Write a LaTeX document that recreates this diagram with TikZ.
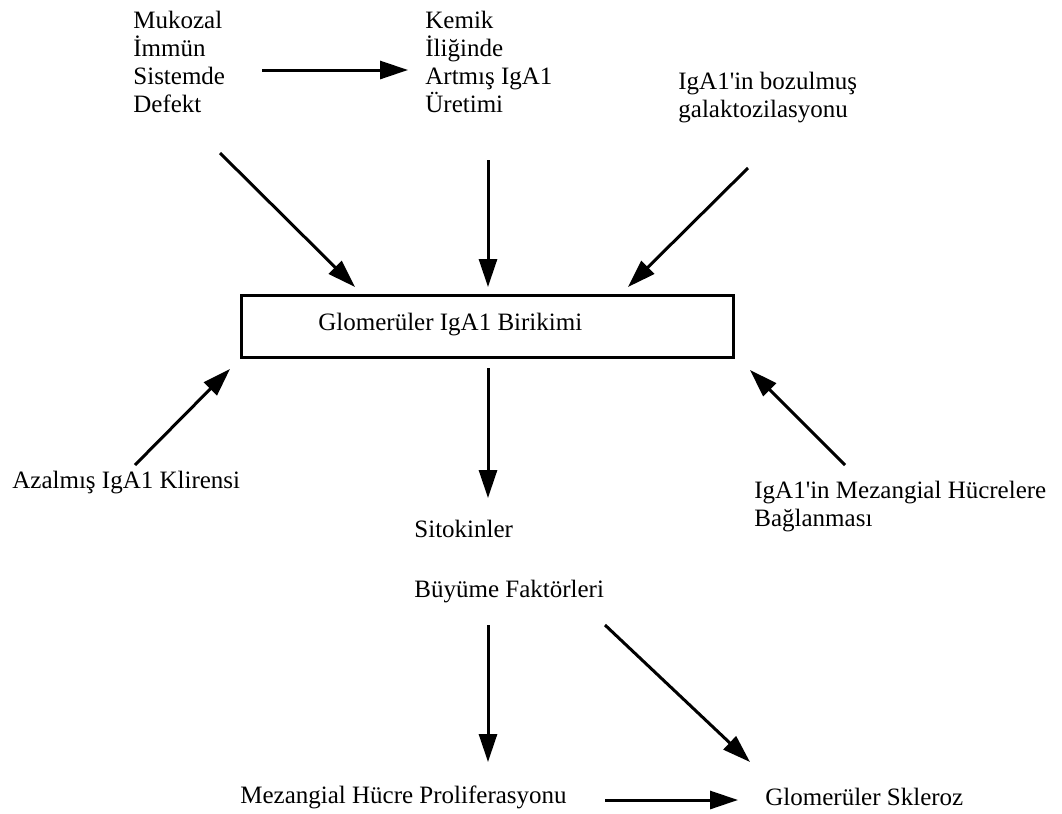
\documentclass[tikz,border=0pt]{standalone}
\usepackage{fontspec}
\setmainfont{Liberation Serif}[Ligatures=TeXOff]
\usetikzlibrary{arrows.meta}
\begin{document}
\begin{tikzpicture}[x=0.5pt,y=-0.5pt,
  txt/.style={inner sep=0pt, font=\fontsize{12.5}{14}\selectfont},
  ml/.style={txt, align=left, anchor=north west},
  sl/.style={txt, anchor=base west},
  arr/.style={line width=1.5pt, -{Triangle[length=14pt,width=9pt]}},
  boxst/.style={draw, line width=1.5pt, inner sep=0pt, minimum width=246pt, minimum height=31pt},
]
\useasboundingbox[fill=white] (0,0) rectangle (1062,814);

% text nodes
\node[ml] (muk) at (133,11) {Mukozal\\İmmün\\Sistemde\\Defekt};
\node[ml] (kem) at (425,11) {Kemik\\İliğinde\\Artmış IgA1\\Üretimi};
\node[ml] (boz) at (678,72) {IgA1'in bozulmuş\\galaktozilasyonu};
\node[boxst] (box) at (487,326) {};
\node[sl] (glo) at (318,330) {Glomerüler IgA1 Birikimi};
\node[sl] (azal) at (12,488) {Azalmış IgA1 Klirensi};
\node[ml] (bag) at (754,481) {IgA1'in Mezangial Hücrelere\\Bağlanması};
\node[sl] (sito) at (414,537) {Sitokinler};
\node[sl] (buy) at (414,597) {Büyüme Faktörleri};
\node[sl] (prol) at (240,803) {Mezangial Hücre Proliferasyonu};
\node[sl] (skl) at (765,805) {Glomerüler Skleroz};

% connector end points
\coordinate (a1s) at (262,70);   \coordinate (a1e) at (408,70);
\coordinate (a2s) at (220,153);  \coordinate (a2e) at (355,287);
\coordinate (a3s) at (488,160);  \coordinate (a3e) at (488,287);
\coordinate (a4s) at (748,168);  \coordinate (a4e) at (628,287);
\coordinate (a5s) at (135,465);  \coordinate (a5e) at (230,369);
\coordinate (a6s) at (845,465);  \coordinate (a6e) at (750,370);
\coordinate (a7s) at (488,368);  \coordinate (a7e) at (488,498);
\coordinate (a8s) at (488,625);  \coordinate (a8e) at (488,762);
\coordinate (a9s) at (605,625);  \coordinate (a9e) at (750,762);
\coordinate (a10s) at (605,800); \coordinate (a10e) at (738,800);

\draw[arr] (a1s) -- (a1e);
\draw[arr] (a2s) -- (a2e);
\draw[arr] (a3s) -- (a3e);
\draw[arr] (a4s) -- (a4e);
\draw[arr] (a5s) -- (a5e);
\draw[arr] (a6s) -- (a6e);
\draw[arr] (a7s) -- (a7e);
\draw[arr] (a8s) -- (a8e);
\draw[arr] (a9s) -- (a9e);
\draw[arr] (a10s) -- (a10e);
\end{tikzpicture}
\end{document}
